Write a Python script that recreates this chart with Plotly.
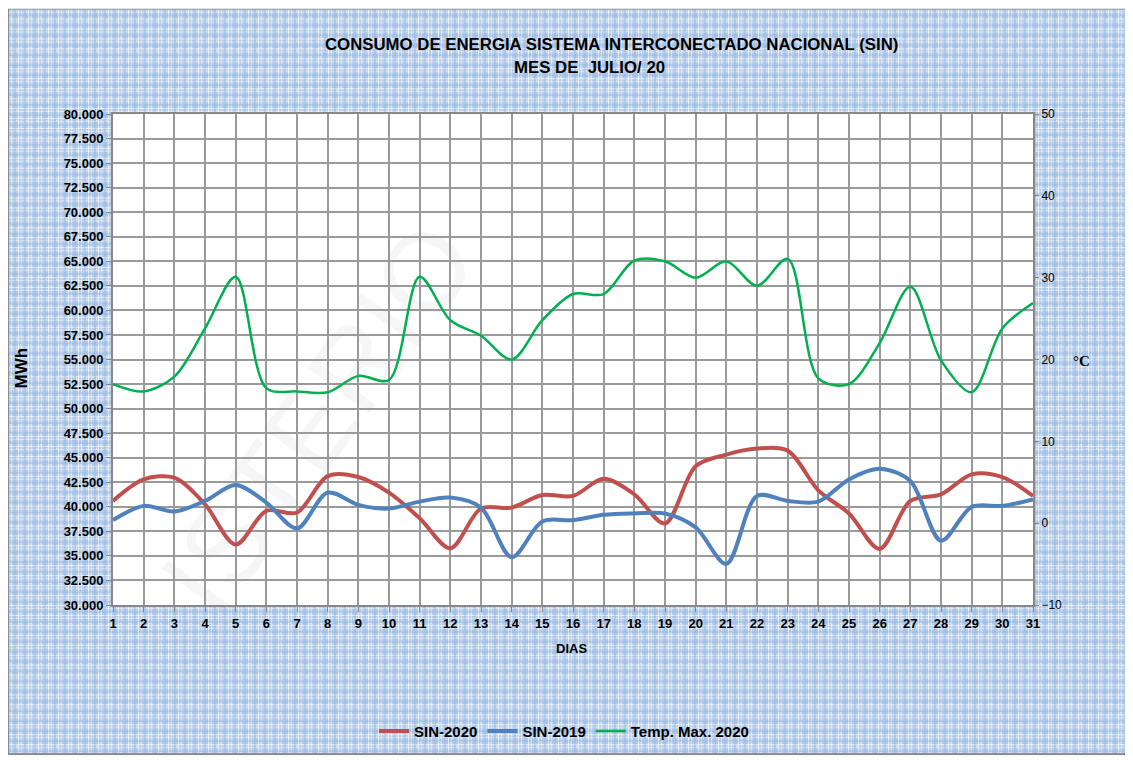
import base64
import plotly.graph_objects as go

# ---- data ----
dias = list(range(1, 32))

sin_2020 = [40600, 42790, 42960, 40260, 36150, 39590, 39420, 43130, 43030, 41440,
            38840, 35780, 39820, 39920, 41210, 41110, 42860, 41270, 38300, 44140,
            45320, 45930, 45720, 41680, 39320, 35710, 40600, 41270, 43300, 43030,
            41110]

sin_2019 = [38640, 40095, 39520, 40600, 42220, 40430, 37800, 41440, 40200, 39820,
            40530, 40940, 39920, 34870, 38510, 38640, 39180, 39320, 39320, 37900,
            34190, 41110, 40600, 40530, 42790, 43870, 42630, 36550, 39990, 40090,
            40760]

temp_max_2020 = [17.0, 16.1, 17.9, 23.8, 30.1, 16.5, 16.1, 16.0, 18.0, 17.5,
                 30.1, 24.8, 22.9, 20.0, 24.8, 28.0, 28.0, 32.1, 32.0, 30.0,
                 32.0, 29.0, 32.3, 17.7, 17.0, 22.0, 28.9, 19.9, 16.0, 23.8,
                 26.9]

# the page body adds an 8px margin, so the figure is sized/placed around it
OFF = 8
W, H = 1133 - OFF, 760 - OFF
L, T = 113 - OFF, 114 - OFF
R, B = W - (1033 - OFF), H - (608 - OFF)
PW, PH = W - L - R, H - T - B


def px_x(p):  # page pixel -> paper x
    return (p - OFF - L) / PW


def px_y(p):  # page pixel -> paper y
    return (H - B - (p - OFF)) / PH


# plaid background of the chart area
svg = (
    f"<svg xmlns='http://www.w3.org/2000/svg' width='{W}' height='{H}' preserveAspectRatio='none'>"
    "<defs><pattern id='p' width='10' height='10' patternUnits='userSpaceOnUse'>"
    "<rect width='10' height='10' fill='#b3cbea'/>"
    "<rect x='0' y='0' width='10' height='1' fill='#ffffff' opacity='0.7'/>"
    "<rect x='0' y='3' width='10' height='1' fill='#ffffff' opacity='0.45'/>"
    "<rect x='0' y='0' width='1' height='10' fill='#ffffff' opacity='0.7'/>"
    "<rect x='3' y='0' width='1' height='10' fill='#ffffff' opacity='0.45'/>"
    "<rect x='6' y='0' width='2' height='10' fill='#93b3de' opacity='0.35'/>"
    "<rect x='0' y='6' width='10' height='2' fill='#93b3de' opacity='0.35'/>"
    "<rect x='2' y='8' width='1' height='1' fill='#ffffff' opacity='0.6'/>"
    "<rect x='8' y='2' width='1' height='1' fill='#ffffff' opacity='0.6'/>"
    "</pattern></defs>"
    "<rect width='100%' height='100%' fill='#ffffff'/>"
    f"<rect x='0' y='0' width='{W - 2}' height='{H - 2}' fill='url(#p)' "
    "stroke='#8c8c8c' stroke-width='2'/>"
    "</svg>"
)
bg_src = "data:image/svg+xml;base64," + base64.b64encode(svg.encode()).decode()

fig = go.Figure()

fig.add_trace(go.Scatter(
    x=dias, y=sin_2020, name="SIN-2020", mode="lines",
    line=dict(color="#C0504D", width=4, shape="spline", smoothing=0.9)
))
fig.add_trace(go.Scatter(
    x=dias, y=sin_2019, name="SIN-2019", mode="lines",
    line=dict(color="#4F81BD", width=4, shape="spline", smoothing=0.9)
))
fig.add_trace(go.Scatter(
    x=dias, y=temp_max_2020, name="Temp. Max. 2020", mode="lines", yaxis="y2",
    line=dict(color="#00B050", width=2.5, shape="spline", smoothing=0.9)
))

grid = "#9a9a9a"
axis_line = "#888888"

fig.update_layout(
    width=W, height=H,
    margin=dict(l=L, r=R, t=T, b=B, pad=0),
    paper_bgcolor="white",
    plot_bgcolor="white",
    separators=",.",
    font=dict(family="Liberation Sans, Arial, sans-serif", color="black"),
    xaxis=dict(
        range=[1, 31], tickmode="linear", tick0=1, dtick=1,
        showgrid=True, gridcolor=grid, gridwidth=1.5,
        showline=True, linecolor=axis_line, linewidth=2, mirror=True,
        ticks="outside", ticklen=5, tickcolor=axis_line,
        tickfont=dict(size=13, weight="bold"), zeroline=False,
    ),
    yaxis=dict(
        range=[30000, 80000], tickmode="linear", tick0=30000, dtick=2500,
        tickformat=",d",
        showgrid=True, gridcolor=grid, gridwidth=1.5,
        showline=True, linecolor=axis_line, linewidth=2,
        ticks="outside", ticklen=5, tickcolor=axis_line,
        tickfont=dict(size=13, weight="bold"), zeroline=False,
    ),
    yaxis2=dict(
        range=[-10, 50], tickmode="linear", tick0=-10, dtick=10,
        overlaying="y", side="right", showgrid=False, zeroline=False,
        showline=True, linecolor=axis_line, linewidth=2,
        ticks="outside", ticklen=4, tickcolor=axis_line,
        tickfont=dict(size=12),
    ),
    showlegend=True,
    legend=dict(
        orientation="h", x=px_x(564), xanchor="center", y=px_y(735), yanchor="middle",
        font=dict(size=15, weight="bold"), bgcolor="rgba(0,0,0,0)",
    ),
    images=[dict(
        source=bg_src, xref="paper", yref="paper",
        x=-L / PW, y=1 + T / PH, sizex=W / PW, sizey=H / PH,
        xanchor="left", yanchor="top", sizing="stretch", layer="below",
    )],
    shapes=[dict(
        type="rect", xref="x domain", yref="y domain", x0=0, x1=1, y0=0, y1=1,
        fillcolor="white", line=dict(width=0), layer="below",
    )],
)

ann = dict(xref="paper", yref="paper", showarrow=False, xanchor="center", yanchor="middle")

fig.add_annotation(
    text="CONSUMO DE ENERGIA SISTEMA INTERCONECTADO NACIONAL (SIN)",
    x=px_x(611), y=px_y(44), font=dict(size=16.8, weight="bold"), **ann,
)
fig.add_annotation(
    text="MES DE  JULIO/ 20",
    x=px_x(589), y=px_y(67), font=dict(size=16.8, weight="bold"), **ann,
)
fig.add_annotation(
    text="MWh", x=px_x(21), y=px_y(370), textangle=-90,
    font=dict(size=17, weight="bold"), **ann,
)
fig.add_annotation(
    text="°C", x=px_x(1081), y=px_y(363),
    font=dict(size=15, weight="bold", family="Liberation Serif, Times New Roman, serif"),
    **ann,
)
fig.add_annotation(
    text="DIAS", x=px_x(571), y=px_y(652), font=dict(size=13, weight="bold"), **ann,
)
# faint diagonal watermark
fig.add_annotation(
    text="ISTERIO", x=px_x(318), y=px_y(420), textangle=-54,
    font=dict(size=112, color="rgba(150,150,150,0.09)"), **ann,
)

fig.write_html("out.html")
